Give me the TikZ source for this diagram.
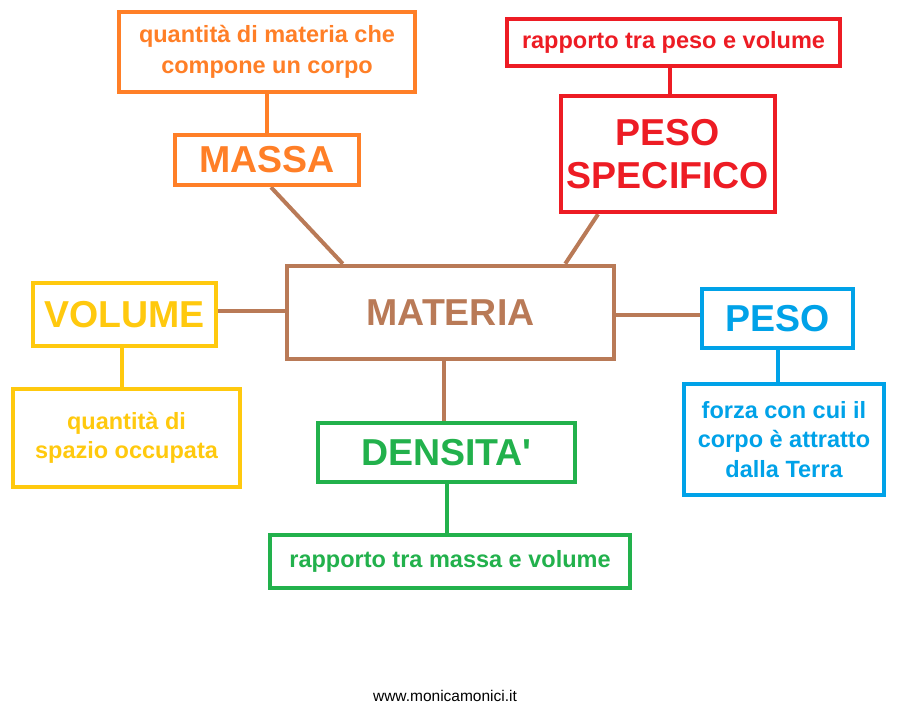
\documentclass[tikz,border=0pt]{standalone}
\usepackage{fontspec}
\setmainfont{Liberation Sans}
\usetikzlibrary{backgrounds}
\definecolor{cOrange}{HTML}{FF7F27}
\definecolor{cRed}{HTML}{ED1C24}
\definecolor{cBrown}{HTML}{B97A57}
\definecolor{cYellow}{HTML}{FFC90E}
\definecolor{cBlue}{HTML}{00A2E8}
\definecolor{cGreen}{HTML}{22B14C}
\tikzset{
  box/.style={draw, line width=4.5pt, rectangle, inner sep=0pt, align=center, fill=white},
  big/.style={font=\bfseries\fontsize{37.5}{43}\selectfont},
  small/.style={font=\bfseries\fontsize{23.5}{31}\selectfont},
  link/.style={line width=4pt},
}
\begin{document}
\begin{tikzpicture}[x=1pt,y=-1pt]
\useasboundingbox (0,0) rectangle (904,708);
\node[box, small, draw=cOrange, text=cOrange, minimum width=296pt, minimum height=80pt] (def1) at (267,52) {quantità di materia che\\compone un corpo};
\node[box, big, draw=cOrange, text=cOrange, minimum width=184pt, minimum height=50pt] (massa) at (267,160) {MASSA};
\node[box, small, draw=cRed, text=cRed, minimum width=333pt, minimum height=47pt] (def2) at (673.5,42.5) {rapporto tra peso e volume};
\node[box, big, draw=cRed, text=cRed, minimum width=214pt, minimum height=116pt] (pesospec) at (668,154) {PESO\\SPECIFICO};
\node[box, big, draw=cBrown, text=cBrown, minimum width=327pt, minimum height=93pt] (materia) at (450.5,312.5) {MATERIA};
\node[box, big, draw=cYellow, text=cYellow, minimum width=183pt, minimum height=63pt] (volume) at (124.5,314.5) {VOLUME};
\node[box, small, font=\bfseries\fontsize{23.5}{29}\selectfont, draw=cYellow, text=cYellow, minimum width=227pt, minimum height=98pt] (def3) at (126.5,438) {quantità di\\spazio occupata};
\node[box, big, draw=cBlue, text=cBlue, minimum width=151pt, minimum height=59pt] (peso) at (777.5,318.5) {PESO};
\node[box, small, font=\bfseries\fontsize{23.5}{29.5}\selectfont, draw=cBlue, text=cBlue, minimum width=200pt, minimum height=111pt] (def4) at (784,439.5) {forza con cui il\\corpo è attratto\\dalla Terra};
\node[box, big, draw=cGreen, text=cGreen, minimum width=257pt, minimum height=59pt] (densita) at (446.5,452.5) {DENSITA\textquotesingle};
\node[box, small, draw=cGreen, text=cGreen, minimum width=360pt, minimum height=53pt] (def5) at (450,561.5) {rapporto tra massa e volume};
\node[font=\fontsize{15.5}{18}\selectfont, inner sep=0pt] (site) at (445,696) {www.monicamonici.it};
\begin{scope}[on background layer]
\draw[link, cOrange] (def1.south) -- (massa.north);
\draw[link, cRed] ([xshift=2pt]pesospec.north) -- ([xshift=2pt]pesospec.north |- def2.south);
\draw[link, cBrown] ([xshift=4pt]massa.south) -- ([xshift=58pt]materia.north west);
\draw[link, cBrown] ([xshift=-70pt]pesospec.south) -- ([xshift=-51pt]materia.north east);
\draw[link, cBrown] ([yshift=3.5pt]volume.east) -- ([yshift=3.5pt]volume.east -| materia.west);
\draw[link, cBrown] ([yshift=3.5pt]peso.west) -- ([yshift=3.5pt]peso.west -| materia.east);
\draw[link, cBrown] ([xshift=-6.5pt]materia.south) -- ([xshift=-6.5pt]materia.south |- densita.north);
\draw[link, cYellow] ([xshift=-2.5pt]volume.south) -- ([xshift=-2.5pt]volume.south |- def3.north);
\draw[link, cBlue] (peso.south) -- (peso.south |- def4.north);
\draw[link, cGreen] (densita.south) -- (densita.south |- def5.north);
\end{scope}
\end{tikzpicture}
\end{document}
